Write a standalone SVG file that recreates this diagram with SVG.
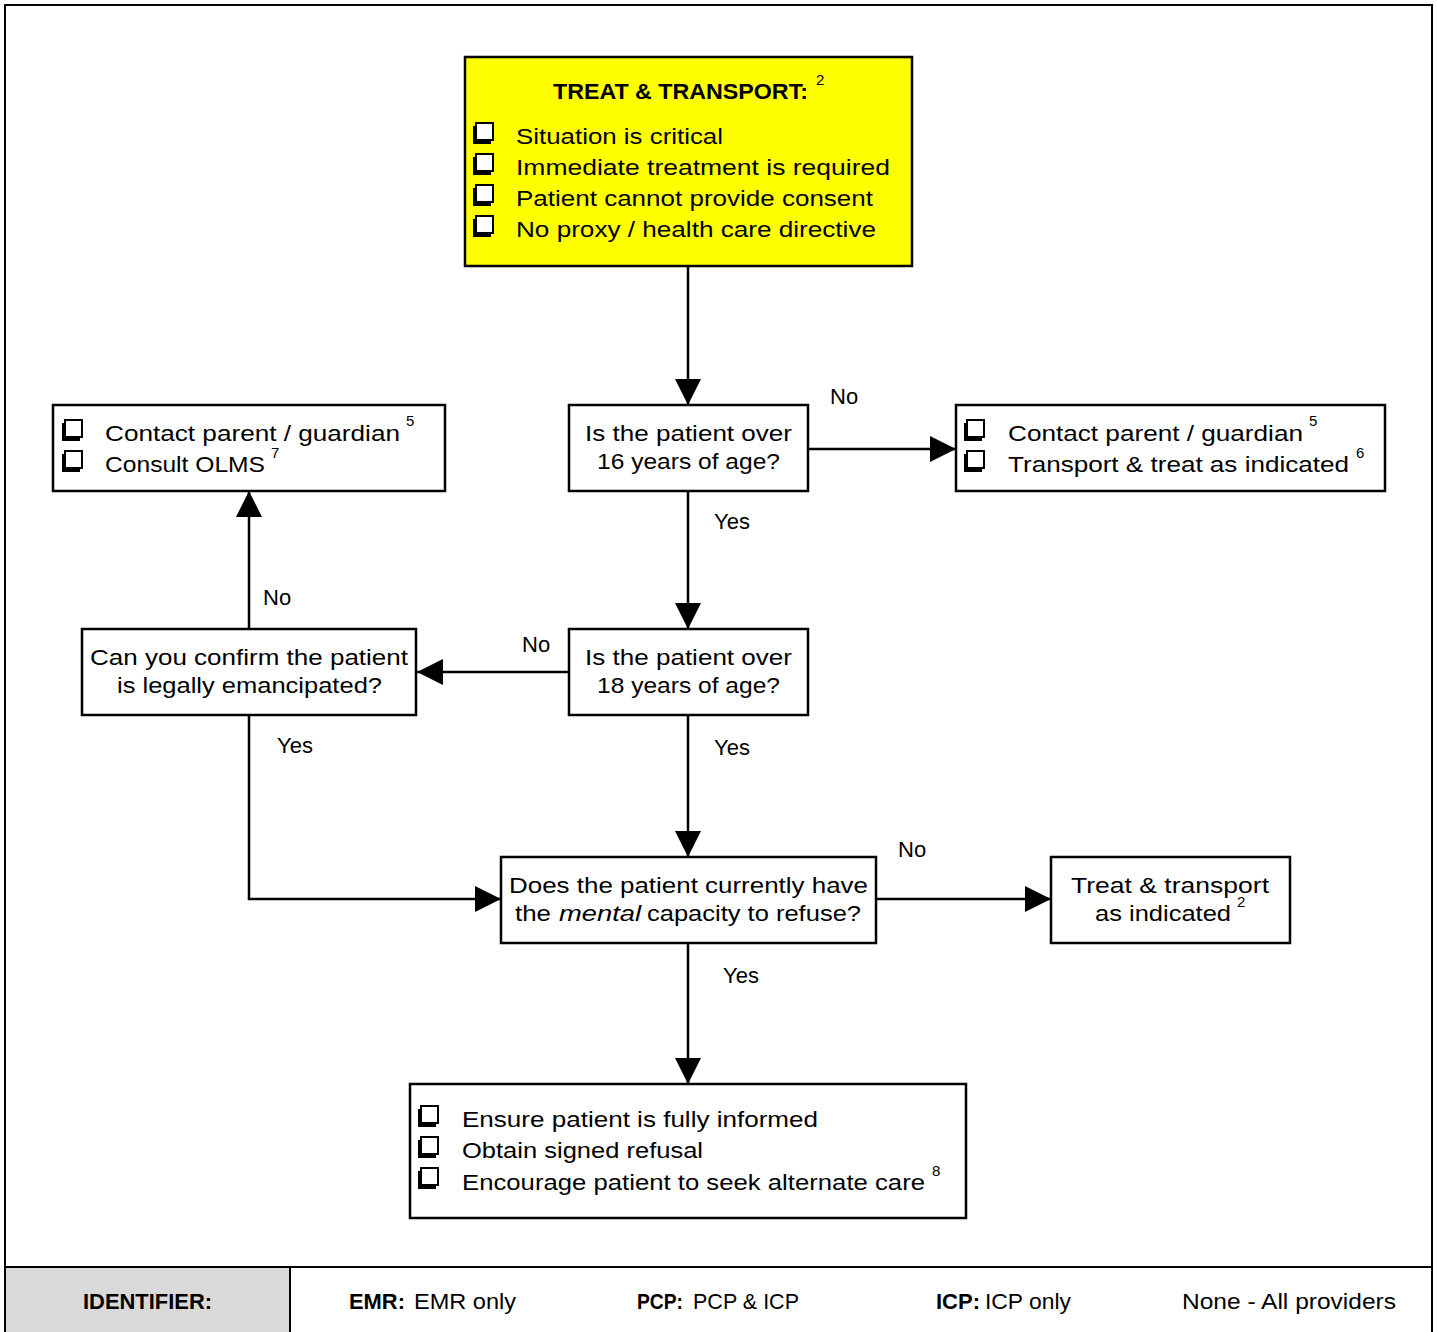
<svg xmlns="http://www.w3.org/2000/svg" xmlns:xlink="http://www.w3.org/1999/xlink" width="1437" height="1332" viewBox="0 0 1437 1332">
<style>
.box{fill:#fff;stroke:#000;stroke-width:2.5}
.yel{fill:#ffff00;stroke:#000;stroke-width:2.5}
.t{font-family:"Liberation Sans",Arial,sans-serif;font-size:22px;fill:#000}
.b{font-weight:bold}
.sup{font-family:"Liberation Sans",Arial,sans-serif;font-size:15px;fill:#000}
.ln{fill:none;stroke:#000;stroke-width:2.5}
</style>
<defs>
<marker id="ah" markerUnits="userSpaceOnUse" markerWidth="26" markerHeight="26" viewBox="0 0 26 26" refX="26" refY="13" orient="auto">
<path d="M0,0 L26,13 L0,26 Z" fill="#000"/>
</marker>
<g id="cb">
<rect x="0" y="3" width="18" height="18" fill="#000"/>
<rect x="3" y="0" width="17" height="17" fill="#fff" stroke="#000" stroke-width="2"/>
</g>
</defs>
<rect x="5" y="5" width="1427" height="1340" fill="#fff" stroke="#000" stroke-width="2"/>

<g id="connectors">
<line class="ln" x1="688" y1="266" x2="688" y2="405" marker-end="url(#ah)"/>
<line class="ln" x1="808" y1="449" x2="956" y2="449" marker-end="url(#ah)"/>
<line class="ln" x1="688" y1="491" x2="688" y2="629" marker-end="url(#ah)"/>
<line class="ln" x1="569" y1="672" x2="417" y2="672" marker-end="url(#ah)"/>
<line class="ln" x1="249" y1="629" x2="249" y2="491" marker-end="url(#ah)"/>
<polyline class="ln" points="249,715 249,899 501,899" marker-end="url(#ah)"/>
<line class="ln" x1="688" y1="715" x2="688" y2="857" marker-end="url(#ah)"/>
<line class="ln" x1="876" y1="899" x2="1051" y2="899" marker-end="url(#ah)"/>
<line class="ln" x1="688" y1="943" x2="688" y2="1084" marker-end="url(#ah)"/>
<text class="t" x="830" y="404">No</text>
<text class="t" x="714" y="529">Yes</text>
<text class="t" x="263" y="605">No</text>
<text class="t" x="522" y="652">No</text>
<text class="t" x="277" y="753">Yes</text>
<text class="t" x="714" y="755">Yes</text>
<text class="t" x="898" y="857">No</text>
<text class="t" x="723" y="983">Yes</text>
</g>

<g id="treat-transport">
<rect class="yel" x="465" y="57" width="447" height="209"/>
<text class="t b" x="553" y="99" font-size="24" textLength="255" lengthAdjust="spacingAndGlyphs">TREAT &amp; TRANSPORT:</text>
<text class="sup" x="816" y="85">2</text>
<use xlink:href="#cb" x="473" y="123"/>
<use xlink:href="#cb" x="473" y="154"/>
<use xlink:href="#cb" x="473" y="185"/>
<use xlink:href="#cb" x="473" y="216"/>
<text class="t" x="516" y="144" textLength="207" lengthAdjust="spacingAndGlyphs">Situation is critical</text>
<text class="t" x="516" y="175" textLength="374" lengthAdjust="spacingAndGlyphs">Immediate treatment is required</text>
<text class="t" x="516" y="206" textLength="357" lengthAdjust="spacingAndGlyphs">Patient cannot provide consent</text>
<text class="t" x="516" y="237" textLength="360" lengthAdjust="spacingAndGlyphs">No proxy / health care directive</text>
</g>

<g id="over16">
<rect class="box" x="569" y="405" width="239" height="86"/>
<text class="t" x="585" y="441" textLength="207" lengthAdjust="spacingAndGlyphs">Is the patient over</text>
<text class="t" x="597" y="469" textLength="183" lengthAdjust="spacingAndGlyphs">16 years of age?</text>
</g>

<g id="contact-left">
<rect class="box" x="53" y="405" width="392" height="86"/>
<use xlink:href="#cb" x="62" y="420"/>
<use xlink:href="#cb" x="62" y="451"/>
<text class="t" x="105" y="441" textLength="295" lengthAdjust="spacingAndGlyphs">Contact parent / guardian</text>
<text class="sup" x="406" y="426">5</text>
<text class="t" x="105" y="472" textLength="160" lengthAdjust="spacingAndGlyphs">Consult OLMS</text>
<text class="sup" x="271" y="458">7</text>
</g>

<g id="contact-right">
<rect class="box" x="956" y="405" width="429" height="86"/>
<use xlink:href="#cb" x="964" y="420"/>
<use xlink:href="#cb" x="964" y="451"/>
<text class="t" x="1008" y="441" textLength="295" lengthAdjust="spacingAndGlyphs">Contact parent / guardian</text>
<text class="sup" x="1309" y="426">5</text>
<text class="t" x="1008" y="472" textLength="341" lengthAdjust="spacingAndGlyphs">Transport &amp; treat as indicated</text>
<text class="sup" x="1356" y="458">6</text>
</g>

<g id="over18">
<rect class="box" x="569" y="629" width="239" height="86"/>
<text class="t" x="585" y="665" textLength="207" lengthAdjust="spacingAndGlyphs">Is the patient over</text>
<text class="t" x="597" y="693" textLength="183" lengthAdjust="spacingAndGlyphs">18 years of age?</text>
</g>

<g id="emancipated">
<rect class="box" x="82" y="629" width="334" height="86"/>
<text class="t" x="90" y="665" textLength="318" lengthAdjust="spacingAndGlyphs">Can you confirm the patient</text>
<text class="t" x="117" y="693" textLength="265" lengthAdjust="spacingAndGlyphs">is legally emancipated?</text>
</g>

<g id="mental-capacity">
<rect class="box" x="501" y="857" width="375" height="86"/>
<text class="t" x="509" y="893" textLength="359" lengthAdjust="spacingAndGlyphs">Does the patient currently have</text>
<text class="t" x="515" y="921" textLength="36" lengthAdjust="spacingAndGlyphs">the</text>
<text class="t" x="559" y="921" font-style="italic" textLength="82" lengthAdjust="spacingAndGlyphs">mental</text>
<text class="t" x="647" y="921" textLength="214" lengthAdjust="spacingAndGlyphs">capacity to refuse?</text>
</g>

<g id="treat-indicated">
<rect class="box" x="1051" y="857" width="239" height="86"/>
<text class="t" x="1071" y="893" textLength="198" lengthAdjust="spacingAndGlyphs">Treat &amp; transport</text>
<text class="t" x="1095" y="921" textLength="136" lengthAdjust="spacingAndGlyphs">as indicated</text>
<text class="sup" x="1237" y="907">2</text>
</g>

<g id="refusal">
<rect class="box" x="410" y="1084" width="556" height="134"/>
<use xlink:href="#cb" x="418" y="1106"/>
<use xlink:href="#cb" x="418" y="1137"/>
<use xlink:href="#cb" x="418" y="1168"/>
<text class="t" x="462" y="1127" textLength="356" lengthAdjust="spacingAndGlyphs">Ensure patient is fully informed</text>
<text class="t" x="462" y="1158" textLength="241" lengthAdjust="spacingAndGlyphs">Obtain signed refusal</text>
<text class="t" x="462" y="1190" textLength="463" lengthAdjust="spacingAndGlyphs">Encourage patient to seek alternate care</text>
<text class="sup" x="932" y="1176">8</text>
</g>

<g id="footer">
<rect x="5" y="1267" width="285" height="70" fill="#d9d9d9" stroke="#000" stroke-width="2"/>
<line x1="5" y1="1267" x2="1432" y2="1267" stroke="#000" stroke-width="2"/>
<text class="t b" x="83" y="1309" textLength="129" lengthAdjust="spacingAndGlyphs">IDENTIFIER:</text>
<text class="t b" x="349" y="1309" textLength="56" lengthAdjust="spacingAndGlyphs">EMR:</text>
<text class="t" x="414" y="1309" textLength="102" lengthAdjust="spacingAndGlyphs">EMR only</text>
<text class="t b" x="637" y="1309" textLength="46" lengthAdjust="spacingAndGlyphs">PCP:</text>
<text class="t" x="693" y="1309" textLength="106" lengthAdjust="spacingAndGlyphs">PCP &amp; ICP</text>
<text class="t b" x="936" y="1309" textLength="44" lengthAdjust="spacingAndGlyphs">ICP:</text>
<text class="t" x="985" y="1309" textLength="86" lengthAdjust="spacingAndGlyphs">ICP only</text>
<text class="t" x="1182" y="1309" textLength="214" lengthAdjust="spacingAndGlyphs">None - All providers</text>
</g>
</svg>
